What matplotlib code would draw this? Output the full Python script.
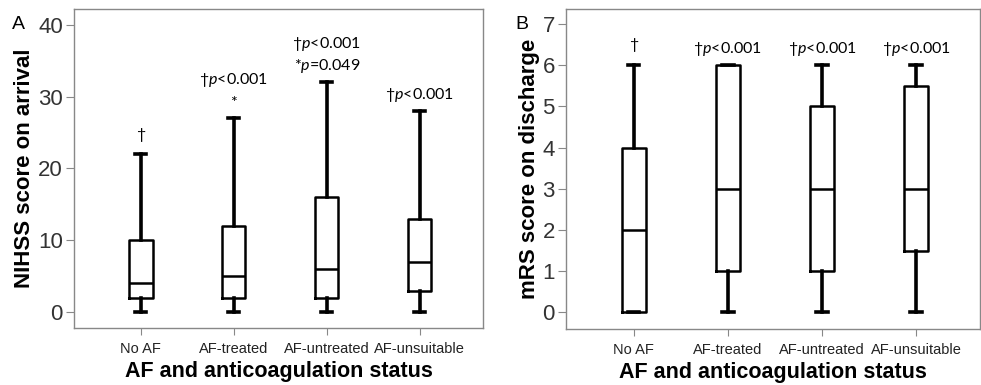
import matplotlib

matplotlib.use("Agg")
import matplotlib.pyplot as plt

plt.rcParams["font.family"] = ["Liberation Sans", "DejaVu Sans"]
plt.rcParams["mathtext.fontset"] = "custom"
plt.rcParams["mathtext.rm"] = "Lato"
plt.rcParams["mathtext.it"] = "Lato:italic"

categories = ["No AF", "AF-treated", "AF-untreated", "AF-unsuitable"]

# whisker low, q1, median, q3, whisker high
nihss_low = [0, 0, 0, 0]
nihss_q1 = [2, 2, 2, 3]
nihss_med = [4, 5, 6, 7]
nihss_q3 = [10, 12, 16, 13]
nihss_high = [22, 27, 32, 28]
nihss_notes = [["†"], ["†$\\mathit{p}$<0.001", "$*$"],
               ["†$\\mathit{p}$<0.001", "$*\\mathit{p}$=0.049"], ["†$\\mathit{p}$<0.001"]]
nihss_note_y = [[24.6], [32.3, 29.4], [37.3, 34.2], [30.2]]

mrs_low = [0, 0, 0, 0]
mrs_q1 = [0, 1, 1, 1.5]
mrs_med = [2, 3, 3, 3]
mrs_q3 = [4, 6, 5, 5.5]
mrs_high = [6, 6, 6, 6]
mrs_notes = [["†"], ["†$\\mathit{p}$<0.001"], ["†$\\mathit{p}$<0.001"], ["†$\\mathit{p}$<0.001"]]
mrs_note_y = [[6.5], [6.4], [6.4], [6.4]]


def draw_panel(ax, low, q1, med, q3, high, notes, note_y, ylabel, yticks, ylim, letter, letter_x):
    stats = [
        {"whislo": a, "q1": b, "med": c, "q3": d, "whishi": e, "fliers": []}
        for a, b, c, d, e in zip(low, q1, med, q3, high)
    ]
    pos = list(range(1, len(stats) + 1))
    ax.bxp(
        stats,
        positions=pos,
        widths=0.25,
        showfliers=False,
        boxprops={"color": "black", "linewidth": 1.8},
        medianprops={"color": "black", "linewidth": 1.8},
        whiskerprops={"color": "black", "linewidth": 2.6},
        capprops={"color": "black", "linewidth": 2.6},
        capwidths=0.12,
    )
    for x, lines, ys in zip(pos, notes, note_y):
        for txt, y in zip(lines, ys):
            ax.text(x, y, txt, ha="center", va="center", fontsize=11.5, family="Lato")
    ax.set_xticks(pos)
    ax.set_xticklabels(categories, fontsize=10.5)
    ax.set_yticks(yticks)
    ax.tick_params(axis="y", labelsize=16, colors="#888888", labelcolor="#333333", length=6, pad=2)
    ax.tick_params(axis="x", colors="#888888", labelcolor="#222222", length=5, pad=5)
    ax.set_xlim(0.28, 4.68)
    ax.set_ylim(*ylim)
    for s in ax.spines.values():
        s.set_color("#888888")
        s.set_linewidth(1.0)
    ax.set_ylabel(ylabel, fontsize=16, fontweight="bold", labelpad=2)
    ax.set_xlabel("AF and anticoagulation status", fontsize=15.5, fontweight="bold", labelpad=4)
    ax.text(letter_x, 0.95, letter, transform=ax.transAxes, fontsize=14, ha="left", va="center")


fig = plt.figure(figsize=(9.81, 3.85), dpi=100)
ax_a = fig.add_axes([0.0754, 0.148, 0.4169, 0.829])
ax_b = fig.add_axes([0.577, 0.146, 0.422, 0.831])

draw_panel(ax_a, nihss_low, nihss_q1, nihss_med, nihss_q3, nihss_high, nihss_notes,
           nihss_note_y, "NIHSS score on arrival", [0, 10, 20, 30, 40], (-2.2, 42.2), "A", -0.152)
draw_panel(ax_b, mrs_low, mrs_q1, mrs_med, mrs_q3, mrs_high, mrs_notes,
           mrs_note_y, "mRS score on discharge", range(8), (-0.4, 7.37), "B", -0.123)

fig.savefig("out.png", dpi=100)
